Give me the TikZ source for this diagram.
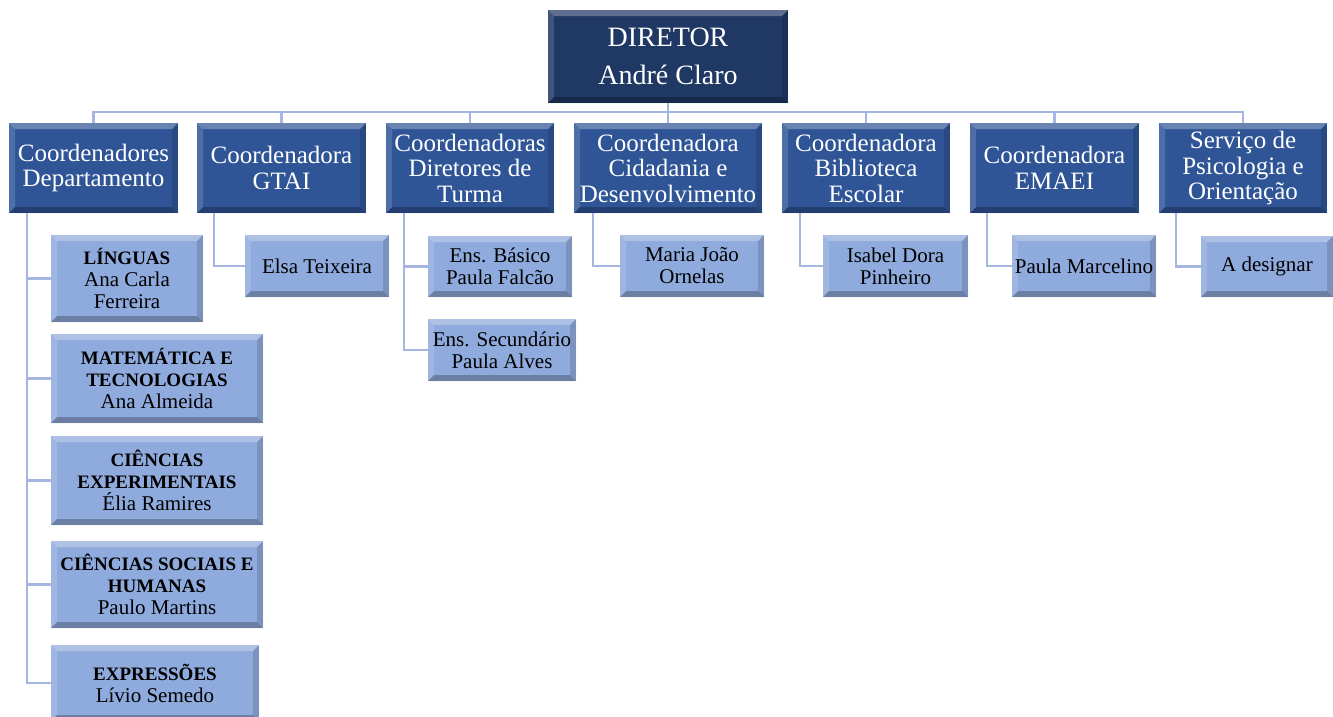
\documentclass[tikz,border=0pt]{standalone}
\usepackage{fontspec}
\setmainfont{Liberation Serif}
\usetikzlibrary{calc}
\definecolor{dirblue}{RGB}{32,56,100}
\definecolor{midblue}{RGB}{47,85,151}
\definecolor{lightblue}{RGB}{143,170,220}
\definecolor{linecol}{RGB}{165,182,225}
\tikzset{
  bevel/.style={path picture={
    \fill[white,opacity=.28] (path picture bounding box.north west) -- (path picture bounding box.north east) -- ([shift={(-6,6)}]path picture bounding box.north east) -- ([shift={(6,6)}]path picture bounding box.north west) -- cycle;
    \fill[white,opacity=.15] (path picture bounding box.north west) -- ([shift={(6,6)}]path picture bounding box.north west) -- ([shift={(6,-6)}]path picture bounding box.south west) -- (path picture bounding box.south west) -- cycle;
    \fill[black,opacity=.25] (path picture bounding box.south west) -- (path picture bounding box.south east) -- ([shift={(-6,-6)}]path picture bounding box.south east) -- ([shift={(6,-6)}]path picture bounding box.south west) -- cycle;
    \fill[black,opacity=.14] (path picture bounding box.north east) -- (path picture bounding box.south east) -- ([shift={(-6,-6)}]path picture bounding box.south east) -- ([shift={(-6,6)}]path picture bounding box.north east) -- cycle;
  }},
  dirbox/.style={bevel, fill=dirblue, text=white, inner sep=0pt, align=center, font=\fontsize{28}{38}\selectfont},
  lvtwo/.style={bevel, fill=midblue, text=white, inner sep=0pt, align=center, font=\fontsize{25}{25.5}\selectfont},
  lvthree/.style={bevel, fill=lightblue, text=black, inner sep=0pt, align=center, font=\fontsize{21}{22}\selectfont},
  conn/.style={draw=linecol, line width=2.2pt},
}
\newcommand\hd[1]{{\bfseries\fontsize{19}{20}\selectfont #1}}
\newcommand\mybox[7]{\node[#6, minimum width={(#4-#2)*1pt}, minimum height={(#5-#3)*1pt}] (#1) at ({(#2+#4)/2},{(#3+#5)/2}) {#7};}
\begin{document}
\begin{tikzpicture}[x=1pt,y=-1pt]
\useasboundingbox (0,0) rectangle (1333,716);
\fill[white] (0,0) rectangle (1333,716);
% director
\mybox{dir}{548}{10}{788}{103}{dirbox}{DIRETOR\\André Claro}
% level 2
\mybox{c1}{9}{123}{178}{213}{lvtwo}{Coordenadores\\Departamento}
\mybox{c2}{197}{123}{366}{213}{lvtwo}{Coordenadora\\GTAI}
\mybox{c3}{386}{123}{554}{213}{lvtwo}{Coordenadoras\\Diretores de\\Turma}
\mybox{c4}{574}{123}{762}{213}{lvtwo}{Coordenadora\\Cidadania e\\Desenvolvimento}
\mybox{c5}{782}{123}{950}{213}{lvtwo}{Coordenadora\\Biblioteca\\Escolar}
\mybox{c6}{970}{123}{1139}{213}{lvtwo}{Coordenadora\\EMAEI}
\mybox{c7}{1159}{123}{1327}{213}{lvtwo}{Serviço de\\Psicologia e\\Orientação}
% level 3
\mybox{k1}{51}{235}{203}{322}{lvthree}{\hd{LÍNGUAS}\\Ana Carla\\Ferreira}
\mybox{k2}{51}{334}{263}{423}{lvthree}{\hd{MATEMÁTICA E}\\\hd{TECNOLOGIAS}\\Ana Almeida}
\mybox{k3}{51}{436}{263}{525}{lvthree}{\hd{CIÊNCIAS}\\\hd{EXPERIMENTAIS}\\Élia Ramires}
\mybox{k4}{51}{541}{263}{628}{lvthree}{\hd{CIÊNCIAS SOCIAIS E}\\\hd{HUMANAS}\\Paulo Martins}
\mybox{k5}{51}{645}{259}{721}{lvthree}{\hd{EXPRESSÕES}\\Lívio Semedo}
\mybox{g1}{245}{235}{389}{297}{lvthree}{Elsa Teixeira}
\mybox{t1}{428}{236}{572}{297}{lvthree}{Ens. Básico\\Paula Falcão}
\mybox{t2}{428}{319}{576}{381}{lvthree}{Ens. Secundário\\Paula Alves}
\mybox{m1}{620}{235}{764}{297}{lvthree}{Maria João\\Ornelas}
\mybox{b1}{823}{235}{968}{297}{lvthree}{Isabel Dora\\Pinheiro}
\mybox{e1}{1012}{235}{1156}{297}{lvthree}{Paula Marcelino}
\mybox{p1}{1201}{236}{1333}{297}{lvthree}{A designar}
% bus
\coordinate (bus) at (668,112);
\draw[conn] (dir.south) -- (c4.north);
\draw[conn] (c1.north) |- (bus) -| (c7.north);
\foreach \n in {c2,c3,c5,c6} {\draw[conn] (\n.north) -- (\n.north |- bus);}
% children connectors
\foreach \k in {k1,k2,k3,k4,k5} {\draw[conn] ([xshift=18pt]c1.south west) |- (\k.west);}
\draw[conn] ([xshift=17pt]c2.south west) |- (g1.west);
\foreach \k in {t1,t2} {\draw[conn] ([xshift=18pt]c3.south west) |- (\k.west);}
\draw[conn] ([xshift=19pt]c4.south west) |- (m1.west);
\draw[conn] ([xshift=18pt]c5.south west) |- (b1.west);
\draw[conn] ([xshift=17pt]c6.south west) |- (e1.west);
\draw[conn] ([xshift=17pt]c7.south west) |- (p1.west);
\end{tikzpicture}
\end{document}
